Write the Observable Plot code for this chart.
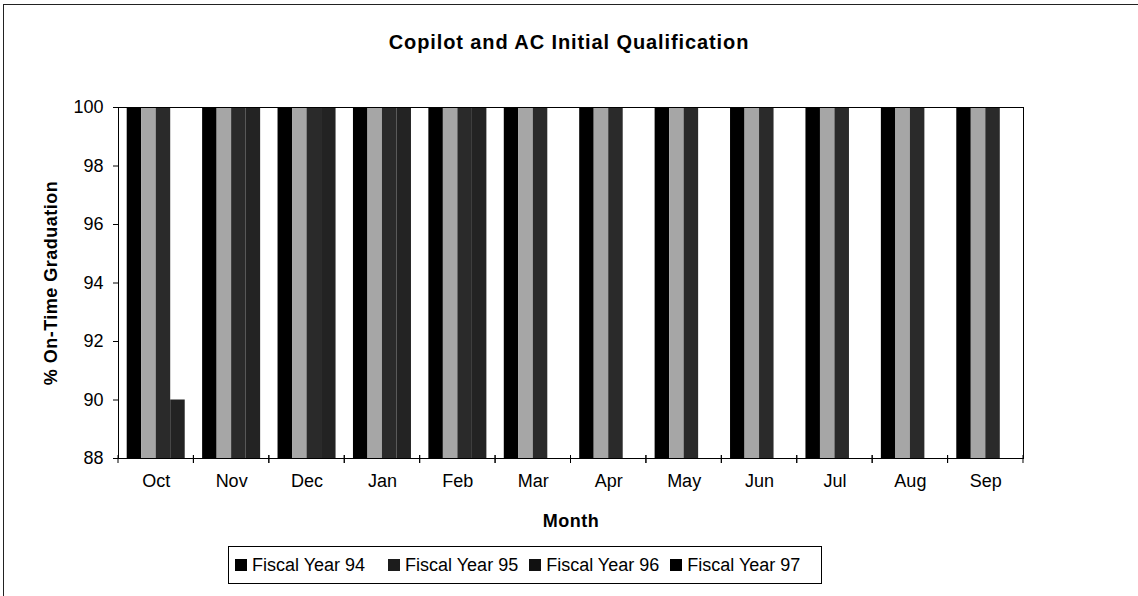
<!DOCTYPE html>
<html>
<head>
<meta charset="utf-8">
<script src="https://cdn.jsdelivr.net/npm/d3@7"></script>
<script src="https://cdn.jsdelivr.net/npm/@observablehq/plot@0.6"></script>
<style>
  body { margin: 0; background: #fff; font-family: "Liberation Sans", Arial, sans-serif; }
  #chart { position: relative; width: 1138px; height: 596px; overflow: hidden; }
  #border { position: absolute; left: 3px; top: 4px; right: -2px; bottom: -2px; border-top: 1px solid #222; border-left: 1px solid #222; }
  #title { position: absolute; top: 30px; left: 0; width: 1138px; text-align: center; font-weight: bold; font-size: 20px; letter-spacing: 0.9px; line-height: 24px; }
  #plot { position: absolute; left: 0; top: 90px; }
  #legend { position: absolute; left: 228px; top: 546px; width: 594px; height: 38px; box-sizing: border-box;
            border: 1px solid #000; display: flex; align-items: center; padding-left: 6px; font-size: 18px; }
  .item { display: flex; align-items: center; }
  .sw { width: 12px; height: 12px; margin-right: 5px; }
  [aria-label="y-axis label"], [aria-label="fx-axis label"] { font-weight: bold; letter-spacing: 0.5px; }
</style>
</head>
<body>
<div id="chart">
  <div id="border"></div>
  <div id="title"></div>
  <div id="plot"></div>
  <div id="legend"></div>
</div>
<script>
// ---- data ----
const months = ["Oct", "Nov", "Dec", "Jan", "Feb", "Mar", "Apr", "May", "Jun", "Jul", "Aug", "Sep"];
const series = ["Fiscal Year 94", "Fiscal Year 95", "Fiscal Year 96", "Fiscal Year 97"];
const fy94 = [100, 100, 100, 100, 100, 100, 100, 100, 100, 100, 100, 100];
const fy95 = [100, 100, 100, 100, 100, 100, 100, 100, 100, 100, 100, 100];
const fy96 = [100, 100, 100, 100, 100, 100, 100, 100, 100, 100, 100, 100];
const fy97 = [90, 100, 100, 100, 100, null, null, null, null, null, null, null];
const yDomain = [88, 100];
const yTicks = [88, 90, 92, 94, 96, 98, 100];
const title = "Copilot and AC Initial Qualification";
const yLabel = "% On-Time Graduation";
const xLabel = "Month";

// ---- styles ----
const barColors = ["#000000", "#a6a6a6", "#2a2a2a", "#232323"];
const legendColors = ["#000000", "#1c1c1c", "#111111", "#000000"];
const legendGaps = [23, 11, 11, 0];

document.getElementById("title").textContent = title;

const seriesValues = [fy94, fy95, fy96, fy97];
const data = [];
months.forEach((m, i) => seriesValues.forEach((vals, j) => {
  if (vals[i] != null) data.push({month: m, series: series[j], value: vals[i]});
}));

function boundaryTicks(index, scales, values, dimensions, context) {
  const {x, y} = scales;
  const g = d3.create("svg:g").attr("stroke", "#000").attr("stroke-width", 1);
  const [r0, r1] = x.range();
  const yb = y(yDomain[0]);
  for (const px of [r0, r1]) {
    g.append("line").attr("x1", px).attr("x2", px).attr("y1", yb - 3).attr("y2", yb + 5);
  }
  return g.node();
}

const chart = Plot.plot({
  width: 1138,
  height: 450,
  marginTop: 17,
  marginBottom: 82,
  marginLeft: 118,
  marginRight: 115,
  style: {fontFamily: "'Liberation Sans', Arial, sans-serif", fontSize: "18px", color: "#000", background: "transparent", overflow: "visible"},
  fx: {domain: months, padding: 0, round: false, label: xLabel},
  x: {domain: series, paddingInner: 0, paddingOuter: 0.6, round: false, axis: null},
  y: {domain: yDomain, ticks: yTicks, label: yLabel},
  color: {domain: series, range: barColors},
  marks: [
    Plot.barY(data, {fx: "month", x: "series", y1: yDomain[0], y2: "value", fill: "series"}),
    Plot.axisY({ticks: yTicks, tickSize: 5, tickPadding: 10, label: yLabel, labelAnchor: "center", labelArrow: "none", labelOffset: 74}),
    Plot.axisFx({anchor: "bottom", tickSize: 0, tickPadding: 16, label: xLabel, labelAnchor: "center", labelArrow: "none", labelOffset: 68}),
    Plot.frame({facet: "super", stroke: "#000"}),
    boundaryTicks
  ]
});
document.getElementById("plot").appendChild(chart);

const legend = document.getElementById("legend");
series.forEach((s, j) => {
  const item = document.createElement("div");
  item.className = "item";
  item.style.marginRight = legendGaps[j] + "px";
  const sw = document.createElement("div");
  sw.className = "sw";
  sw.style.background = legendColors[j];
  const t = document.createElement("span");
  t.textContent = s;
  item.appendChild(sw);
  item.appendChild(t);
  legend.appendChild(item);
});
</script>
</body>
</html>
